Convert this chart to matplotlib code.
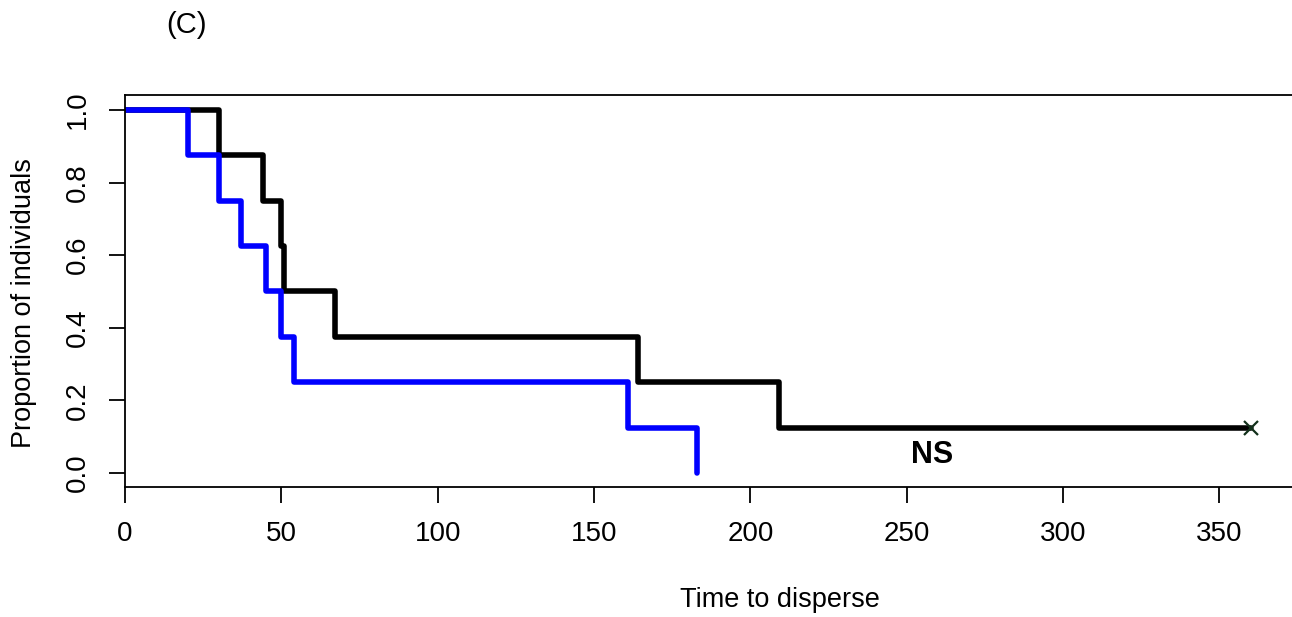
import matplotlib.pyplot as plt

plt.rcParams['font.family'] = ['Liberation Sans', 'DejaVu Sans']

# Kaplan-Meier curves
black_time = [0, 30, 44, 50, 51, 67, 164, 209, 360]
black_surv = [1.0, 0.875, 0.75, 0.625, 0.5, 0.375, 0.25, 0.125, 0.125]
blue_time = [0, 20, 30, 37, 45, 50, 54, 161, 183]
blue_surv = [1.0, 0.875, 0.75, 0.625, 0.5, 0.375, 0.25, 0.125, 0.0]
censor_time = [360]
censor_surv = [0.125]

x_ticks = [0, 50, 100, 150, 200, 250, 300, 350]
y_ticks = [0.0, 0.2, 0.4, 0.6, 0.8, 1.0]

W, H = 1292, 617
fig = plt.figure(figsize=(W / 100, H / 100), dpi=100)
ax = fig.add_axes([125 / W, 1 - 487 / H, 1 - 125 / W, (487 - 95) / H])

ax.step(black_time, black_surv, where='post', color='black', lw=4.0,
        solid_capstyle='round', solid_joinstyle='round')
ax.step(blue_time, blue_surv, where='post', color='#0000ff', lw=4.0,
        solid_capstyle='round', solid_joinstyle='round')
ax.plot(censor_time, censor_surv, 'x', color='#12301a', ms=10, mew=1.6)

ax.text(258, 0.05, 'NS', fontsize=22, fontweight='bold', ha='center', va='center')

ax.set_xlim(0, 373.2)
ax.set_ylim(-0.0386, 1.041)
ax.set_xticks(x_ticks)
ax.set_xticklabels([str(t) for t in x_ticks])
ax.set_yticks(y_ticks)
ax.set_yticklabels(['%.1f' % t for t in y_ticks], rotation=90, va='center')

ax.spines['right'].set_visible(False)
for s in ['left', 'bottom', 'top']:
    ax.spines[s].set_linewidth(1.3)
ax.tick_params(axis='both', length=11.5, width=1.3, labelsize=20, direction='out')
ax.tick_params(axis='x', pad=13)
ax.tick_params(axis='y', pad=13)

# the plotting region of the original runs past the right edge,
# so the axis title sits right of centre
ax.set_xlabel('Time to disperse', fontsize=19.5, va='center')
ax.xaxis.set_label_coords((780 - 125) / (W - 125), -(600 - 487) / (487 - 95))
ax.set_ylabel('Proportion of individuals', fontsize=19.5, va='center')
ax.yaxis.set_label_coords(-(125 - 24) / (W - 125), 0.47)

fig.text(186 / W, 1 - 25 / H, '(C)', fontsize=21, ha='center', va='center')

fig.savefig('out.png', dpi=100)
